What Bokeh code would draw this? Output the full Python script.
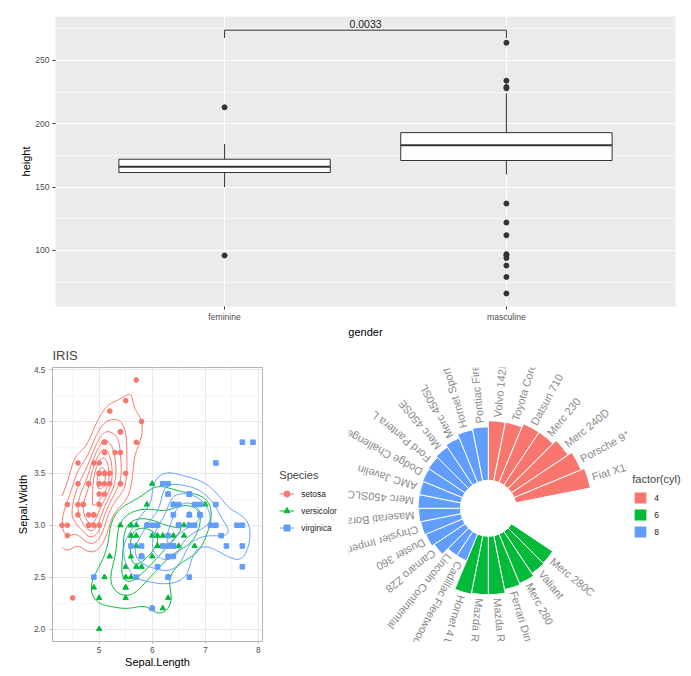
import numpy as np
import contourpy
from bokeh.plotting import figure
from bokeh.models import (Range1d, FixedTicker, SingleIntervalTicker, Legend,
                          LegendItem, ColumnDataSource, NumeralTickFormatter)
from bokeh.layouts import column, row
from bokeh.embed import file_html
from bokeh.resources import INLINE
from bokeh.core.properties import value

FONT = "Liberation Sans"

# ---------------- top panel: height by gender (box statistics) ----------------
genders = ["feminine", "masculine"]
box_q1 = [161.5, 171.0]
box_median = [166.0, 183.0]
box_q3 = [172.0, 193.0]
whisker_low = [150.0, 160.0]
whisker_high = [184.0, 224.0]
outliers_feminine = [213.0, 96.0]
outliers_masculine = [264.0, 234.0, 229.0, 228.0, 137.0, 122.0, 112.0,
                      97.0, 96.0, 94.0, 88.0, 79.0, 66.0]
p_value_label = "0.0033"

# ---------------- bottom-left: iris ----------------
species_names = ["setosa", "versicolor", "virginica"]
species_colors = ["#F8766D", "#00BA38", "#619CFF"]
species_markers = ["circle", "triangle", "square"]
setosa_length = [5.1, 4.9, 4.7, 4.6, 5.0, 5.4, 4.6, 5.0, 4.4, 4.9, 5.4, 4.8, 4.8, 4.3, 5.8, 5.7, 5.4,
                 5.1, 5.7, 5.1, 5.4, 5.1, 4.6, 5.1, 4.8, 5.0, 5.0, 5.2, 5.2, 4.7, 4.8, 5.4, 5.2, 5.5,
                 4.9, 5.0, 5.5, 4.9, 4.4, 5.1, 5.0, 4.5, 4.4, 5.0, 5.1, 4.8, 5.1, 4.6, 5.3, 5.0]
setosa_width = [3.5, 3.0, 3.2, 3.1, 3.6, 3.9, 3.4, 3.4, 2.9, 3.1, 3.7, 3.4, 3.0, 3.0, 4.0, 4.4, 3.9,
                3.5, 3.8, 3.8, 3.4, 3.7, 3.6, 3.3, 3.4, 3.0, 3.4, 3.5, 3.4, 3.2, 3.1, 3.4, 4.1, 4.2,
                3.1, 3.2, 3.5, 3.6, 3.0, 3.4, 3.5, 2.3, 3.2, 3.5, 3.8, 3.0, 3.8, 3.2, 3.7, 3.3]
versicolor_length = [7.0, 6.4, 6.9, 5.5, 6.5, 5.7, 6.3, 4.9, 6.6, 5.2, 5.0, 5.9, 6.0, 6.1, 5.6, 6.7,
                     5.6, 5.8, 6.2, 5.6, 5.9, 6.1, 6.3, 6.1, 6.4, 6.6, 6.8, 6.7, 6.0, 5.7, 5.5, 5.5,
                     5.8, 6.0, 5.4, 6.0, 6.7, 6.3, 5.6, 5.5, 5.5, 6.1, 5.8, 5.0, 5.6, 5.7, 5.7, 6.2,
                     5.1, 5.7]
versicolor_width = [3.2, 3.2, 3.1, 2.3, 2.8, 2.8, 3.3, 2.4, 2.9, 2.7, 2.0, 3.0, 2.2, 2.9, 2.9, 3.1,
                    3.0, 2.7, 2.2, 2.5, 3.2, 2.8, 2.5, 2.8, 2.9, 3.0, 2.8, 3.0, 2.9, 2.6, 2.4, 2.4,
                    2.7, 2.7, 3.0, 3.4, 3.1, 2.3, 3.0, 2.5, 2.6, 3.0, 2.6, 2.3, 2.7, 3.0, 2.9, 2.9,
                    2.5, 2.8]
virginica_length = [6.3, 5.8, 7.1, 6.3, 6.5, 7.6, 4.9, 7.3, 6.7, 7.2, 6.5, 6.4, 6.8, 5.7, 5.8, 6.4,
                    6.5, 7.7, 7.7, 6.0, 6.9, 5.6, 7.7, 6.3, 6.7, 7.2, 6.2, 6.1, 6.4, 7.2, 7.4, 7.9,
                    6.4, 6.3, 6.1, 7.7, 6.3, 6.4, 6.0, 6.9, 6.7, 6.9, 5.8, 6.8, 6.7, 6.7, 6.3, 6.5,
                    6.2, 5.9]
virginica_width = [3.3, 2.7, 3.0, 2.9, 3.0, 3.0, 2.5, 2.9, 2.5, 3.6, 3.2, 2.7, 3.0, 2.5, 2.8, 3.2,
                   3.0, 3.8, 2.6, 2.2, 3.2, 2.8, 2.8, 2.7, 3.3, 3.2, 2.8, 3.0, 2.8, 3.0, 2.8, 3.8,
                   2.8, 2.8, 2.6, 3.0, 3.4, 3.1, 3.0, 3.1, 3.1, 3.1, 2.7, 3.2, 3.3, 3.0, 2.5, 3.0,
                   3.4, 3.0]

# ---------------- bottom-right: mtcars circular bars ----------------
car_names = ["Volvo 142E", "Toyota Corona", "Datsun 710", "Merc 230", "Merc 240D", "Porsche 914-2",
             "Fiat X1-9", "Honda Civic", "Lotus Europa", "Fiat 128", "Toyota Corolla",
             "Merc 280C", "Valiant", "Merc 280", "Ferrari Dino", "Mazda RX4", "Mazda RX4 Wag",
             "Hornet 4 Drive",
             "Cadillac Fleetwood", "Lincoln Continental", "Camaro Z28", "Duster 360",
             "Chrysler Imperial", "Maserati Bora", "Merc 450SLC", "AMC Javelin", "Dodge Challenger",
             "Ford Pantera L", "Merc 450SE", "Merc 450SL", "Hornet Sportabout", "Pontiac Firebird"]
car_mpg = [21.4, 21.5, 22.8, 22.8, 24.4, 26.0, 27.3, 30.4, 30.4, 32.4, 33.9,
           17.8, 18.1, 19.2, 19.7, 21.0, 21.0, 21.4,
           10.4, 10.4, 13.3, 14.3, 14.7, 15.0, 15.2, 15.2, 15.5, 15.8, 16.4, 17.3, 18.7, 19.2]
car_cyl = [4] * 11 + [6] * 7 + [8] * 14
cyl_levels = [4, 6, 8]
cyl_colors = ["#F8766D", "#00BA38", "#619CFF"]
radial_limits = (-10.0, 30.0)

BOTTOM_H = 335
B_TOP, B_BOTTOM = 25, 34          # shared frame borders of the bottom row
FRAME_BOTTOM = 340 + BOTTOM_H - B_BOTTOM   # page y of the bottom row's frame edge


def legend_panel(width):
    """A bare figure that only hosts a legend."""
    f = figure(width=width, height=BOTTOM_H, x_range=Range1d(-2, -1), y_range=Range1d(-2, -1),
               x_axis_location=None, y_axis_location=None, output_backend="svg",
               toolbar_location=None, min_border_left=0, min_border_right=0,
               min_border_top=B_TOP, min_border_bottom=B_BOTTOM)
    f.grid.visible = False
    f.outline_line_color = None
    f.background_fill_color = "white"
    f.border_fill_color = "white"
    return f


# =====================================================================
# TOP FIGURE
# =====================================================================
all_heights = box_q1 + box_q3 + whisker_low + whisker_high + outliers_feminine + outliers_masculine
hmax, hmin = max(all_heights), min(all_heights)
hspan = hmax - hmin

top = figure(width=690, height=340, x_range=Range1d(0.4, 2.6), y_range=Range1d(55.7, 284.7),
             output_backend="svg", toolbar_location=None,
             min_border_left=55, min_border_right=15, min_border_top=16, min_border_bottom=30)
top.background_fill_color = "#EBEBEB"
top.border_fill_color = "white"
top.outline_line_color = None

gx_pos = [i + 1 for i in range(len(genders))]
top.xaxis.ticker = FixedTicker(ticks=gx_pos)
top.xaxis.major_label_overrides = {p: g for p, g in zip(gx_pos, genders)}
top.yaxis.ticker = SingleIntervalTicker(interval=50, num_minor_ticks=2)
top.xgrid.ticker = FixedTicker(ticks=gx_pos)
for g in (top.xgrid, top.ygrid):
    g.grid_line_color = "white"
    g.grid_line_width = 1.1
top.ygrid.minor_grid_line_color = "white"
top.ygrid.minor_grid_line_width = 0.55
top.xaxis.axis_label = "gender"
top.yaxis.axis_label = "height"
for ax in (top.xaxis, top.yaxis):
    ax.axis_line_color = None
    ax.major_tick_line_color = "#333333"
    ax.major_tick_out = 3
    ax.major_tick_in = 0
    ax.minor_tick_line_color = None
    ax.major_label_text_font = FONT
    ax.major_label_text_font_size = "8.6px"
    ax.major_label_text_color = "#4D4D4D"
    ax.major_label_standoff = 2
    ax.axis_label_text_font = FONT
    ax.axis_label_text_font_size = "11px"
    ax.axis_label_text_font_style = "normal"
    ax.axis_label_text_color = "black"
    ax.axis_label_standoff = 1
top.yaxis.axis_label_standoff = 0

box_w = 0.75
bsrc = ColumnDataSource(dict(x=gx_pos, q1=box_q1, q3=box_q3, med=box_median,
                             lo=whisker_low, hi=whisker_high,
                             x0=[p - box_w / 2 for p in gx_pos], x1=[p + box_w / 2 for p in gx_pos]))
top.segment(x0="x", y0="q3", x1="x", y1="hi", source=bsrc, line_color="#333333", line_width=1)
top.segment(x0="x", y0="lo", x1="x", y1="q1", source=bsrc, line_color="#333333", line_width=1)
top.vbar(x="x", width=box_w, bottom="q1", top="q3", source=bsrc,
         fill_color="white", line_color="#333333", line_width=1)
top.segment(x0="x0", y0="med", x1="x1", y1="med", source=bsrc, line_color="#333333", line_width=2)
out_x = [gx_pos[0]] * len(outliers_feminine) + [gx_pos[1]] * len(outliers_masculine)
out_y = outliers_feminine + outliers_masculine
top.scatter(out_x, out_y, size=5, fill_color="#333333", line_color="#333333")

bracket_y = hmax + 0.05 * hspan
tick_y = bracket_y - 0.031 * hspan
top.segment(x0=[gx_pos[0], gx_pos[0], gx_pos[1]], y0=[tick_y, bracket_y, bracket_y],
            x1=[gx_pos[0], gx_pos[1], gx_pos[1]], y1=[bracket_y, bracket_y, tick_y],
            line_color="#333333", line_width=1)
top.text(x=[(gx_pos[0] + gx_pos[1]) / 2], y=[bracket_y + 0.024 * hspan], text=[p_value_label],
         text_align="center", text_baseline="middle", text_font=value(FONT),
         text_font_size="10.5px", text_color="#222222")

# =====================================================================
# IRIS FIGURE
# =====================================================================
iris_len = [setosa_length, versicolor_length, virginica_length]
iris_wid = [setosa_width, versicolor_width, virginica_width]
all_len = sum(iris_len, [])
all_wid = sum(iris_wid, [])
xlo, xhi = min(all_len), max(all_len)
ylo, yhi = min(all_wid), max(all_wid)
xpad = 0.05 * (xhi - xlo)
ypad = 0.05 * (yhi - ylo)

iris = figure(width=265, height=BOTTOM_H, x_range=Range1d(xlo - xpad, xhi + xpad),
              y_range=Range1d(ylo - ypad, yhi + ypad), title="IRIS",
              output_backend="svg", toolbar_location=None,
              min_border_left=52, min_border_right=3, min_border_top=B_TOP,
              min_border_bottom=B_BOTTOM)
iris.title.text_font = FONT
iris.title.text_font_size = "13px"
iris.title.text_font_style = "normal"
iris.title.standoff = 10
iris.background_fill_color = "white"
iris.border_fill_color = "white"
iris.outline_line_color = "#B3B3B3"
iris.outline_line_width = 1
iris.xaxis.ticker = SingleIntervalTicker(interval=1, num_minor_ticks=2)
iris.yaxis.ticker = SingleIntervalTicker(interval=0.5, num_minor_ticks=2)
iris.yaxis.formatter = NumeralTickFormatter(format="0.0")
for g in (iris.xgrid, iris.ygrid):
    g.grid_line_color = "#E4E4E4"
    g.grid_line_width = 0.8
    g.minor_grid_line_color = "#F1F1F1"
    g.minor_grid_line_width = 0.6
iris.xaxis.axis_label = "Sepal.Length"
iris.yaxis.axis_label = "Sepal.Width"
for ax in (iris.xaxis, iris.yaxis):
    ax.axis_line_color = None
    ax.major_tick_line_color = "#B3B3B3"
    ax.major_tick_in = 0
    ax.minor_tick_line_color = None
    ax.major_label_text_font = FONT
    ax.major_label_text_font_size = "8.3px"
    ax.major_label_text_color = "#4D4D4D"
    ax.axis_label_text_font = FONT
    ax.axis_label_text_font_size = "11px"
    ax.axis_label_text_font_style = "normal"
    ax.axis_label_text_color = "black"
iris.yaxis.major_tick_out = 3
iris.yaxis.major_label_standoff = 3
iris.yaxis.axis_label_standoff = 2
iris.xaxis.major_tick_out = 2
iris.xaxis.major_label_standoff = 1
iris.xaxis.axis_label_standoff = 0


def bandwidth_nrd(v):
    q1, q3 = np.percentile(v, [25, 75])
    h = (q3 - q1) / 1.34
    return 4 * 1.06 * min(np.std(v, ddof=1), h) * len(v) ** (-0.2)


def kde2d(x, y, gx, gy):
    hx = bandwidth_nrd(x) / 4
    hy = bandwidth_nrd(y) / 4
    ax = (gx[:, None] - x[None, :]) / hx
    ay = (gy[:, None] - y[None, :]) / hy
    dx = np.exp(-0.5 * ax ** 2) / np.sqrt(2 * np.pi)
    dy = np.exp(-0.5 * ay ** 2) / np.sqrt(2 * np.pi)
    z = dx @ dy.T / (len(x) * hx * hy)
    return z.T


def r_pretty(lo, hi, n=10):
    h = 1.5
    h5 = 0.5 + 1.5 * h
    cell = (hi - lo) / n
    base = 10 ** np.floor(np.log10(cell))
    unit = base
    if 2 * base - cell < h * (cell - unit):
        unit = 2 * base
        if 5 * base - cell < h5 * (cell - unit):
            unit = 5 * base
            if 10 * base - cell < h * (cell - unit):
                unit = 10 * base
    ns = np.floor(lo / unit + 1e-7)
    nu = np.ceil(hi / unit - 1e-7)
    return np.arange(ns, nu + 1) * unit


grid_x = np.linspace(xlo, xhi, 100)
grid_y = np.linspace(ylo, yhi, 100)
dens = [kde2d(np.array(a), np.array(b), grid_x, grid_y) for a, b in zip(iris_len, iris_wid)]
zmin = min(d.min() for d in dens)
zmax = max(d.max() for d in dens)
levels = [b for b in r_pretty(zmin, zmax, 10) if zmin < b < zmax]

iris_leg_fig = legend_panel(80)
legend_items = []
for name, col, mk, lx, wy, z in zip(species_names, species_colors, species_markers,
                                     iris_len, iris_wid, dens):
    size = {"circle": 4.7, "triangle": 5.4, "square": 4.6}[mk]
    iris.scatter(lx, wy, marker=mk, size=size, fill_color=col, line_color=col)
    gen = contourpy.contour_generator(x=grid_x, y=grid_y, z=z,
                                      line_type=contourpy.LineType.Separate)
    xs_l, ys_l = [], []
    for lev in levels:
        for seg in gen.lines(lev):
            xs_l.append(seg[:, 0].tolist())
            ys_l.append(seg[:, 1].tolist())
    iris.multi_line(xs_l, ys_l, line_color=col, line_width=1)
    # legend keys (same styling; their data lies outside this panel's visible range)
    k_ln = iris_leg_fig.line(lx, wy, line_color=col, line_width=1)
    k_pt = iris_leg_fig.scatter(lx, wy, marker=mk, size=size, fill_color=col, line_color=col)
    legend_items.append(LegendItem(label=name, renderers=[k_ln, k_pt]))

iris_legend = Legend(items=legend_items, location=(14.3, FRAME_BOTTOM - 536.2), title="Species",
                     title_text_font=FONT, title_text_font_size="11px",
                     title_text_font_style="normal", title_standoff=4,
                     label_text_font=FONT, label_text_font_size="8.3px",
                     label_text_color="#1A1A1A", glyph_width=15, glyph_height=17,
                     label_height=17, label_standoff=7, spacing=0, padding=0, margin=0,
                     border_line_color=None, background_fill_alpha=0)
iris_leg_fig.add_layout(iris_legend)

# =====================================================================
# POLAR BAR FIGURE
# =====================================================================
CX, CY = 487.8, 506.8      # page position of the polar centre
frame_top = 340 + B_TOP
polar = figure(width=282, height=BOTTOM_H, x_range=Range1d(348 - CX, 627 - CX),
               y_range=Range1d(CY - FRAME_BOTTOM, CY - frame_top),
               output_backend="svg", toolbar_location=None,
               min_border_left=3, min_border_right=0, min_border_top=B_TOP,
               min_border_bottom=B_BOTTOM)
polar.axis.visible = False
polar.grid.visible = False
polar.outline_line_color = None
polar.background_fill_color = "white"
polar.border_fill_color = "white"

n_slots = len(car_names)
slot = 360.0 / n_slots
outer_px = 0.4 * 279.0
rlo, rhi = radial_limits


def to_radius(v):
    return (np.asarray(v, dtype=float) - rlo) / (rhi - rlo) * outer_px


polar_leg_fig = legend_panel(63)
polar_items = []
for cyl, col in zip(cyl_levels, cyl_colors):
    idx = [i for i, (c, m) in enumerate(zip(car_cyl, car_mpg)) if c == cyl and m <= rhi]
    mpg = [car_mpg[i] for i in idx]
    start = [np.radians(90 - (i + 1) * slot) for i in idx]
    end = [np.radians(90 - i * slot) for i in idx]
    src = ColumnDataSource(dict(outer=to_radius(mpg), start=start, end=end))
    polar.annular_wedge(x=0, y=0, inner_radius=float(to_radius(0.0)), outer_radius="outer",
                        start_angle="start", end_angle="end", source=src,
                        fill_color=col, line_color="white", line_width=1)
    key = polar_leg_fig.quad(left=mpg, right=mpg, bottom=[0] * len(mpg), top=mpg,
                             fill_color=col, line_color="white", line_width=1)
    polar_items.append(LegendItem(label=str(cyl), renderers=[key]))

lab_idx = [i for i, m in enumerate(car_mpg) if m <= rhi]
theta = np.radians([(i + 0.5) * slot for i in lab_idx])
lab_r = to_radius([car_mpg[i] + 1.6 for i in lab_idx])
polar.text(x=lab_r * np.sin(theta), y=lab_r * np.cos(theta), text=[car_names[i] for i in lab_idx],
           angle=np.pi / 2 - theta, text_align="left", text_baseline="middle",
           text_font=value(FONT), text_font_size="11px", text_color="#8A8A8A")

polar_legend = Legend(items=polar_items, location=(5.3, FRAME_BOTTOM - 539), title="factor(cyl)",
                      title_text_font=FONT, title_text_font_size="11px",
                      title_text_font_style="normal", title_standoff=5,
                      label_text_font=FONT, label_text_font_size="8.5px",
                      label_text_color="#1A1A1A", glyph_width=16, glyph_height=15,
                      label_height=15, label_standoff=6, spacing=2, padding=0, margin=0,
                      border_line_color=None, background_fill_alpha=0)
polar_leg_fig.add_layout(polar_legend)

layout = column(top, row(iris, iris_leg_fig, polar, polar_leg_fig))
open("out.html", "w").write(file_html(layout, INLINE))
